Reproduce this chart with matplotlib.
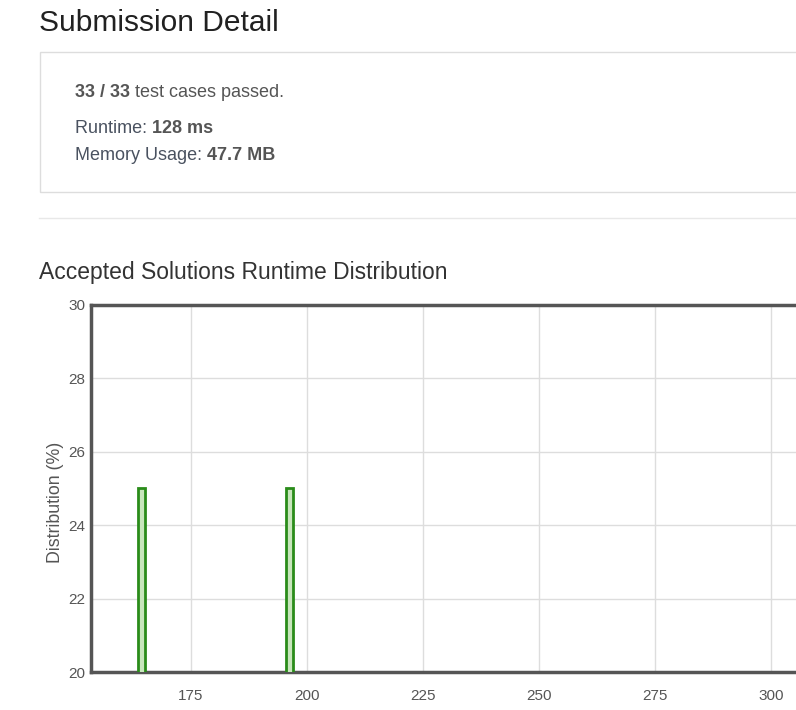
import matplotlib.pyplot as plt
from matplotlib.patches import Rectangle
from matplotlib.lines import Line2D

# runtime distribution data
runtimes = [164.4, 196.3]
distribution = [25, 25]
bar_width = 1.5
x_ticks = [175, 200, 225, 250, 275, 300]
y_ticks = [20, 22, 24, 26, 28, 30]

plt.rcParams['font.family'] = ['Liberation Sans', 'DejaVu Sans']

W, H = 796, 710
fig = plt.figure(figsize=(W / 100, H / 100), dpi=100)


def fx(px):
    return px / W


def fy(py):
    return 1 - py / H


# overlay axes used to chain text pieces
page = fig.add_axes([0, 0, 1, 1], frameon=False)
page.set_axis_off()
chain = dict(xy=(1, 0), xytext=(0, 0), textcoords='offset points', va='bottom', ha='left')

# page header
fig.text(fx(39), fy(31), 'Submission Detail', fontsize=21.5, color='#212121',
         va='baseline', ha='left')

# summary box
fig.patches.append(Rectangle((fx(39.5), fy(191.5)), fx(800) - fx(39.5), fy(51.5) - fy(191.5),
                             transform=fig.transFigure, fill=False, edgecolor='#dddddd', lw=1))
fig.lines.append(Line2D([fx(39), fx(800)], [fy(218.5), fy(218.5)],
                        transform=fig.transFigure, color='#e8e8e8', lw=1))

t = fig.text(fx(75), fy(97), '33 / 33', fontsize=13, fontweight='bold', color='#555555',
             va='baseline', ha='left')
page.annotate(' test cases passed.', xycoords=t, fontsize=13, color='#555555', **chain)

r = fig.text(fx(75), fy(133), 'Runtime: ', fontsize=13, color='#4a5260', va='baseline', ha='left')
page.annotate('128 ms', xycoords=r, fontsize=13, fontweight='bold', color='#555555', **chain)
m = fig.text(fx(75), fy(160), 'Memory Usage: ', fontsize=13, color='#4a5260', va='baseline', ha='left')
page.annotate('47.7 MB', xycoords=m, fontsize=13, fontweight='bold', color='#555555', **chain)

# chart title
fig.text(fx(39), fy(279), 'Accepted Solutions Runtime Distribution', fontsize=16.5, color='#333333',
         va='baseline', ha='left')

# chart
ax = fig.add_axes([fx(91), fy(672), 1 - fx(91), fy(305) - fy(672)])
ax.bar(runtimes, distribution, width=bar_width, color='#c8e6bc', edgecolor='#2a8c1a', linewidth=2,
       zorder=3)
ax.set_xlim(175 - (191 - 91) / 116 * 25, 300 + (796 - 771) / 116 * 25)
ax.set_ylim(20, 30)
ax.set_xticks(x_ticks)
ax.set_yticks(y_ticks)
ax.grid(True, color='#dddddd', lw=1, zorder=0)
ax.tick_params(length=0, labelsize=11, labelcolor='#555555')
ax.tick_params(axis='x', pad=12)
ax.tick_params(axis='y', pad=4)
for side in ['left', 'bottom', 'top']:
    ax.spines[side].set_color('#555555')
    ax.spines[side].set_linewidth(2.5)
ax.spines['right'].set_visible(False)

fig.text(fx(56), fy(502), 'Distribution (%)', rotation=90, fontsize=12.8, color='#555555',
         va='center', ha='center')

fig.savefig('out.png', dpi=100)
